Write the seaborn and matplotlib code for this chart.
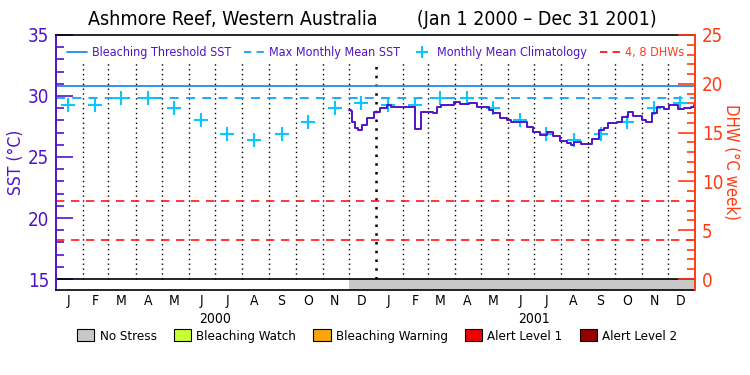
import numpy as np
import pandas as pd
import matplotlib
matplotlib.use('Agg')
import matplotlib.pyplot as plt
from matplotlib.lines import Line2D
from matplotlib.patches import Patch
import seaborn as sns

# dados
titulo = 'Ashmore Reef, Western Australia       (Jan 1 2000 \u2013 Dec 31 2001)'
mmm = 29.8            # Max Monthly Mean SST
limiar = 30.8         # Bleaching Threshold SST
dhw_linhas = [4, 8]
meses = ['J', 'F', 'M', 'A', 'M', 'J', 'J', 'A', 'S', 'O', 'N', 'D']
anos = ['2000', '2001']
climatologia = [29.25, 29.3, 29.8, 29.8, 29.05, 28.0, 26.9, 26.4, 26.85, 27.9, 29.05, 29.4]

sst_datas = ['2000-12-01', '2000-12-03', '2000-12-05', '2000-12-08', '2000-12-12', '2000-12-16',
             '2000-12-22', '2000-12-29', '2000-12-30', '2001-01-06', '2001-01-14', '2001-01-18',
             '2001-02-11', '2001-02-15', '2001-02-20', '2001-02-21', '2001-03-07', '2001-03-12',
             '2001-03-16', '2001-03-25', '2001-03-31', '2001-04-07', '2001-04-17', '2001-04-27',
             '2001-05-04', '2001-05-10', '2001-05-15', '2001-05-23', '2001-05-31', '2001-06-04',
             '2001-06-15', '2001-06-23', '2001-06-30', '2001-07-08', '2001-07-12', '2001-07-16',
             '2001-07-23', '2001-07-31', '2001-08-08', '2001-08-12', '2001-08-15', '2001-08-23',
             '2001-09-01', '2001-09-05', '2001-09-09', '2001-09-13', '2001-09-19', '2001-09-23',
             '2001-10-04', '2001-10-10', '2001-10-16', '2001-10-22', '2001-11-01', '2001-11-06',
             '2001-11-09', '2001-11-13', '2001-11-19', '2001-11-26', '2001-12-02', '2001-12-10',
             '2001-12-13', '2001-12-19', '2001-12-27', '2001-12-31']
sst_valores = [28.85, 28.8, 27.9, 27.4, 27.2, 27.6,
               28.17, 28.17, 28.7, 29.0, 29.26, 29.1,
               29.1, 27.27, 27.27, 28.7, 28.58, 29.1,
               29.3, 29.26, 29.48, 29.34, 29.45, 29.1,
               29.1, 28.85, 28.58, 28.17, 28.04, 27.84,
               27.84, 27.48, 27.07, 26.8, 26.8, 27.07,
               26.72, 26.3, 26.17, 25.98, 26.25, 26.1,
               26.1, 26.45, 26.45, 27.2, 27.35, 27.8,
               27.85, 28.3, 28.66, 28.4, 28.05, 27.9,
               27.9, 28.58, 29.12, 28.9, 29.26, 29.3,
               28.9, 29.05, 29.1, 29.3]
status = ['No Stress'] * len(sst_datas)

categorias = ['No Stress', 'Bleaching Watch', 'Bleaching Warning', 'Alert Level 1', 'Alert Level 2']
cores_cat = ['#C8C8C8', '#C8FF32', '#FAA50A', '#F00000', '#960000']

roxo = '#5014C8'
laranja = '#FF3C14'

sns.set_style('white')
plt.rcParams['font.family'] = ['DejaVu Sans']
plt.rcParams['font.stretch'] = 'condensed'
plt.rcParams['text.color'] = 'black'
plt.rcParams['xtick.color'] = 'black'

df_sst = pd.DataFrame({'data': pd.to_datetime(sst_datas), 'sst': sst_valores, 'status': status})
inicio_mes = pd.date_range('2000-01-01', '2001-12-01', freq='MS')
df_clim = pd.DataFrame({'data': inicio_mes + pd.Timedelta(days=14),
                        'sst': climatologia * len(anos)})

fig = plt.figure(figsize=(7.5, 3.75), dpi=100)
ax = fig.add_axes([0.0747, 0.2267, 0.852, 0.68])
y_base = 14.1
ax.set_xlim(pd.Timestamp('2000-01-01'), pd.Timestamp('2002-01-01'))
ax.set_ylim(y_base, 35)

# linhas pontilhadas dos meses
for d in inicio_mes[1:]:
    grossa = d == pd.Timestamp('2001-01-01')
    ax.vlines(d, 15, 32.7, colors='black', linestyles=(0, (1, 2.5)),
              linewidth=1.8 if grossa else 1.0, zorder=1)

# faixa de status
for cat, cor in zip(categorias, cores_cat):
    sub = df_sst[df_sst['status'] == cat]
    if len(sub):
        ax.fill_between(sub['data'], y_base, 15, color=cor, step='post', linewidth=0)
ax.axhline(15, color='black', linewidth=1.2)

ax.axhline(limiar, color='#1E8CF0', linewidth=1.3)
ax.axhline(mmm, color='#14A0F5', linewidth=1.3, linestyle=(0, (5, 4)))
for v in dhw_linhas:
    ax.axhline(15 + v * 20 / 25, color='#FF1414', linewidth=1.2, linestyle=(0, (5, 4)))

sns.scatterplot(data=df_clim, x='data', y='sst', marker='+', s=90, color='#0AC8FF',
                linewidth=1.5, ax=ax, zorder=4, legend=False)
sns.lineplot(data=df_sst, x='data', y='sst', color=roxo, linewidth=1.4,
             drawstyle='steps-post', ax=ax, zorder=5, legend=False)

# eixos
ax.set_xlabel('')
ax.set_ylabel('SST (\u00b0C)', color=roxo, fontsize=12.5, labelpad=2)
ax.set_yticks([15, 20, 25, 30, 35])
ax.set_yticks(np.arange(16, 35, 1), minor=True)
ax.tick_params(axis='y', which='major', direction='in', length=12, width=1.2, colors=roxo,
               labelsize=13.5, labelcolor=roxo, pad=5)
ax.tick_params(axis='y', which='minor', direction='in', length=6, width=1.2, colors=roxo)
ax.set_xticks(df_clim['data'])
ax.set_xticklabels(meses * len(anos))
ax.tick_params(axis='x', length=0, labelsize=10, labelcolor='black', pad=3)
for a in anos:
    ax.text(pd.Timestamp(f'{a}-07-01'), -0.115, a, transform=ax.get_xaxis_transform(),
            ha='center', va='center', fontsize=10, color='black')

for lado in ['top', 'bottom']:
    ax.spines[lado].set_color('black')
    ax.spines[lado].set_linewidth(1.2)
ax.spines['left'].set_color(roxo)
ax.spines['left'].set_linewidth(1.4)
ax.spines['right'].set_visible(False)

ax2 = ax.twinx()
ax2.set_ylim((y_base - 15) * 25 / 20, 25)
ax2.set_yticks([0, 5, 10, 15, 20, 25])
ax2.set_yticks(np.arange(1, 25, 1), minor=True)
ax2.tick_params(axis='y', which='major', direction='in', length=12, width=1.2, colors=laranja,
                labelsize=13.5, labelcolor=laranja, pad=5)
ax2.tick_params(axis='y', which='minor', direction='in', length=6, width=1.2, colors=laranja)
ax2.set_ylabel('DHW (\u00b0C week)', color=laranja, fontsize=12, rotation=-90, labelpad=12)
for lado in ['top', 'bottom', 'left']:
    ax2.spines[lado].set_visible(False)
ax2.spines['right'].set_color(laranja)
ax2.spines['right'].set_linewidth(1.4)

# legenda interna
handles = [Line2D([], [], color='#1E8CF0', lw=1.3),
           Line2D([], [], color='#14A0F5', lw=1.3, ls=(0, (4, 3))),
           Line2D([], [], color='#0AC8FF', lw=0, marker='+', markersize=8, mew=1.5),
           Line2D([], [], color='#FF1414', lw=1.3, ls=(0, (4, 3)))]
rotulos = ['Bleaching Threshold SST', 'Max Monthly Mean SST', 'Monthly Mean Climatology', '4, 8 DHWs']
leg = ax.legend(handles, rotulos, loc='upper center', bbox_to_anchor=(0.5, 1.0), ncol=4,
                frameon=False, fontsize=9, handlelength=1.6, handletextpad=0.4,
                columnspacing=1.0)
for t, c in zip(leg.get_texts(), [roxo, roxo, roxo, laranja]):
    t.set_color(c)

# legenda de status
fig.legend([Patch(facecolor=c, edgecolor='black', linewidth=0.8) for c in cores_cat], categorias,
           loc='center', bbox_to_anchor=(0.503, 0.104), ncol=5, frameon=False, fontsize=9.5,
           handlelength=1.3, handleheight=1.0, handletextpad=0.4, columnspacing=1.3)

fig.text(0.497, 0.947, titulo, ha='center', va='center', fontsize=14, color='black')

fig.savefig('out.png', dpi=100)
